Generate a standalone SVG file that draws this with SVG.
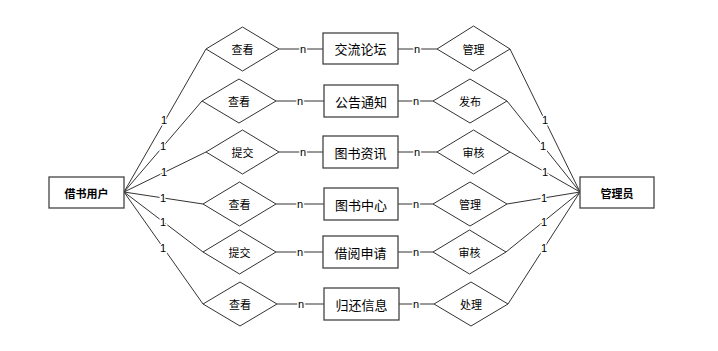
<svg xmlns="http://www.w3.org/2000/svg" width="718" height="351" viewBox="0 0 718 351">
<style>
.e{fill:#fff;stroke:#444;stroke-width:1.3}
.d{fill:#fff;stroke:#333;stroke-width:1}
.c{stroke:#333;stroke-width:1;fill:none}
text{font-family:"Noto Sans CJK SC","Liberation Sans",sans-serif;fill:#000;text-anchor:middle;dominant-baseline:central}
.t{font-size:13px}
.b{font-size:11px;font-weight:bold}
.r{font-size:11px}
.l{font-size:11px;font-family:"Liberation Sans",sans-serif;stroke:#fff;stroke-width:3;paint-order:stroke}
</style>
<rect width="718" height="351" fill="#fff"/>
<g id="connectors">
<path class="c" d="M124,192L206,49M124,192L202,101M124,192L206,152M124,192L203,204M124,192L203,252M124,192L203,304"/>
<path class="c" d="M279,49H323M276,101H324M279,152H323M276,204H324M276,252H323M277,304H324"/>
<path class="c" d="M398,49H437M398,101H433M398,152H437M398,204H433M398,252H433M399,304H434"/>
<path class="c" d="M510,49L580,192M507,101L580,192M510,152L580,192M507,204L580,192M506,252L580,192M508,304L580,192"/>
<text class="l" x="164" y="120">1</text><text class="l" x="163" y="146">1</text><text class="l" x="164" y="172">1</text>
<text class="l" x="163" y="198">1</text><text class="l" x="163" y="222">1</text><text class="l" x="163" y="248">1</text>
<text class="l" x="545" y="120">1</text><text class="l" x="543" y="146">1</text><text class="l" x="545" y="172">1</text>
<text class="l" x="544" y="198">1</text><text class="l" x="544" y="222">1</text><text class="l" x="544" y="248">1</text>
<text class="l" x="303" y="49">n</text><text class="l" x="300" y="101">n</text><text class="l" x="303" y="152">n</text>
<text class="l" x="300" y="204">n</text><text class="l" x="300" y="252">n</text><text class="l" x="301" y="304">n</text>
<text class="l" x="417" y="49">n</text><text class="l" x="416" y="101">n</text><text class="l" x="417" y="152">n</text>
<text class="l" x="416" y="204">n</text><text class="l" x="416" y="252">n</text><text class="l" x="416" y="304">n</text>
</g>
<g id="user"><rect class="e" x="49" y="177" width="75" height="31"/><text class="b" x="86.5" y="192.5">借书用户</text></g>
<g id="admin"><rect class="e" x="580" y="177" width="74" height="31"/><text class="b" x="617" y="192.5">管理员</text></g>
<g id="r1"><polygon class="d" points="206,49 242.5,27 279,49 242.5,71"/><text class="r" x="242.5" y="49">查看</text></g>
<g id="r2"><polygon class="d" points="202,101 239,79 276,101 239,123"/><text class="r" x="239" y="101">查看</text></g>
<g id="r3"><polygon class="d" points="206,152 242.5,130 279,152 242.5,174"/><text class="r" x="242.5" y="152">提交</text></g>
<g id="r4"><polygon class="d" points="203,204 239.5,182 276,204 239.5,226"/><text class="r" x="239.5" y="204">查看</text></g>
<g id="r5"><polygon class="d" points="203,252 239.5,230 276,252 239.5,274"/><text class="r" x="239.5" y="252">提交</text></g>
<g id="r6"><polygon class="d" points="203,304 240,282 277,304 240,326"/><text class="r" x="240" y="304">查看</text></g>
<g id="e1"><rect class="e" x="323" y="33" width="75" height="31"/><text class="t" x="360.5" y="48.5">交流论坛</text></g>
<g id="e2"><rect class="e" x="324" y="85" width="74" height="32"/><text class="t" x="361" y="101">公告通知</text></g>
<g id="e3"><rect class="e" x="323" y="136" width="75" height="32"/><text class="t" x="360.5" y="152">图书资讯</text></g>
<g id="e4"><rect class="e" x="324" y="188" width="74" height="32"/><text class="t" x="361" y="204">图书中心</text></g>
<g id="e5"><rect class="e" x="323" y="236" width="75" height="32"/><text class="t" x="360.5" y="252">借阅申请</text></g>
<g id="e6"><rect class="e" x="324" y="288" width="75" height="32"/><text class="t" x="361.5" y="304">归还信息</text></g>
<g id="s1"><polygon class="d" points="437,49 473.5,26 510,49 473.5,71"/><text class="r" x="473.5" y="48.5">管理</text></g>
<g id="s2"><polygon class="d" points="433,101 470,79 507,101 470,123"/><text class="r" x="470" y="101">发布</text></g>
<g id="s3"><polygon class="d" points="437,152 473.5,130 510,152 473.5,174"/><text class="r" x="473.5" y="152">审核</text></g>
<g id="s4"><polygon class="d" points="433,204 470,182 507,204 470,226"/><text class="r" x="470" y="204">管理</text></g>
<g id="s5"><polygon class="d" points="433,252 469.5,230 506,252 469.5,274"/><text class="r" x="469.5" y="252">审核</text></g>
<g id="s6"><polygon class="d" points="434,304 471,282 508,304 471,326"/><text class="r" x="471" y="304">处理</text></g>
</svg>
